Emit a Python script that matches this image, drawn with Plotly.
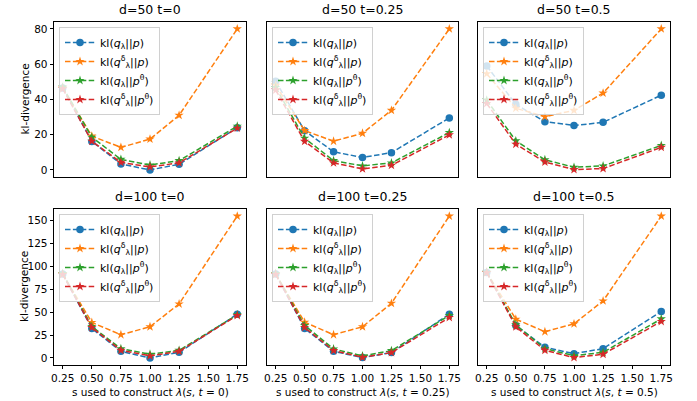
import plotly.graph_objects as go

# s values used to construct lambda(s, t)
s_values = [0.25, 0.50, 0.75, 1.00, 1.25, 1.75]
x_tick_vals = [0.25, 0.50, 0.75, 1.00, 1.25, 1.50, 1.75]
x_tick_text = ["0.25", "0.50", "0.75", "1.00", "1.25", "1.50", "1.75"]
top_y_ticks = [0, 20, 40, 60, 80]
bottom_y_ticks = [0, 25, 50, 75, 100, 125, 150]

# d = 50
d50_t0_q_p = [46.5, 16.2, 3.4, 0.0, 3.2, 24.0]
d50_t0_qd_p = [46.5, 19.2, 12.8, 17.5, 31.0, 80.0]
d50_t0_q_pt = [47.0, 18.6, 6.0, 2.8, 5.3, 24.8]
d50_t0_qd_pt = [46.0, 16.3, 4.3, 1.7, 4.0, 23.7]

d50_t025_q_p = [50.3, 22.2, 10.3, 7.1, 9.8, 29.5]
d50_t025_qd_p = [48.0, 22.3, 16.3, 20.8, 33.8, 80.0]
d50_t025_q_pt = [46.8, 18.0, 5.3, 2.3, 4.0, 21.2]
d50_t025_qd_pt = [45.3, 16.2, 4.0, 0.6, 2.6, 19.9]

d50_t05_q_p = [59.0, 37.2, 27.4, 25.2, 27.0, 42.4]
d50_t05_qd_p = [54.6, 35.0, 30.2, 33.8, 43.6, 80.0]
d50_t05_q_pt = [39.6, 16.5, 5.8, 1.5, 2.3, 13.9]
d50_t05_qd_pt = [37.7, 14.6, 4.5, 0.2, 0.8, 12.8]

# d = 100
d100_t0_q_p = [91.4, 32.2, 7.2, 0.0, 6.1, 47.7]
d100_t0_qd_p = [91.4, 38.7, 25.3, 34.0, 58.9, 154.7]
d100_t0_q_pt = [92.0, 34.3, 10.1, 4.0, 8.3, 47.0]
d100_t0_qd_pt = [91.0, 33.2, 8.3, 2.2, 7.2, 46.3]

d100_t025_q_p = [91.4, 32.2, 7.2, 0.4, 5.8, 47.7]
d100_t025_qd_p = [91.4, 39.0, 25.3, 34.0, 59.6, 154.7]
d100_t025_q_pt = [91.8, 35.4, 9.8, 2.2, 8.0, 46.3]
d100_t025_qd_pt = [91.0, 33.2, 8.0, 0.7, 5.8, 44.1]

d100_t05_q_p = [93.2, 35.4, 11.6, 4.7, 10.1, 50.6]
d100_t05_qd_p = [93.2, 42.3, 28.6, 37.2, 62.2, 154.7]
d100_t05_q_pt = [93.5, 36.1, 10.1, 2.5, 6.1, 42.6]
d100_t05_qd_pt = [93.0, 34.0, 8.3, 0.4, 4.0, 39.8]

panel_titles = ["d=50 t=0", "d=50 t=0.25", "d=50 t=0.5",
                "d=100 t=0", "d=100 t=0.25", "d=100 t=0.5"]
t_labels = ["0", "0.25", "0.5"]

series_names = [
    "kl(<i>q</i><sub>λ</sub>||<i>p</i>)",
    "kl(<i>q</i><sup>δ</sup><sub>λ</sub>||<i>p</i>)",
    "kl(<i>q</i><sub>λ</sub>||<i>p</i><sup>θ</sup>)",
    "kl(<i>q</i><sup>δ</sup><sub>λ</sub>||<i>p</i><sup>θ</sup>)",
]
series_colors = ["#1f77b4", "#ff7f0e", "#2ca02c", "#d62728"]
series_symbols = ["circle", "star", "star", "star"]

panels = [
    [d50_t0_q_p, d50_t0_qd_p, d50_t0_q_pt, d50_t0_qd_pt],
    [d50_t025_q_p, d50_t025_qd_p, d50_t025_q_pt, d50_t025_qd_pt],
    [d50_t05_q_p, d50_t05_qd_p, d50_t05_q_pt, d50_t05_qd_pt],
    [d100_t0_q_p, d100_t0_qd_p, d100_t0_q_pt, d100_t0_qd_pt],
    [d100_t025_q_p, d100_t025_qd_p, d100_t025_q_pt, d100_t025_qd_pt],
    [d100_t05_q_p, d100_t05_qd_p, d100_t05_q_pt, d100_t05_qd_pt],
]

W, H = 697, 401
ML, MR, MT, MB = 54, 27, 22, 36
PW, PH = W - ML - MR, H - MT - MB

col_px = [(54, 246), (267, 458), (478, 670)]
row_px = [(22, 177), (209, 365)]
col_dom = [((a - ML) / PW, (b - ML) / PW) for a, b in col_px]
row_dom = [((H - MB - b) / PH, (H - MB - a) / PH) for a, b in row_px]


def px_x(px):
    return (px - ML) / PW


def px_y(py):
    return (H - MB - py) / PH


FONT = "DejaVu Sans"
fig = go.Figure()
layout = {}
annotations = []

for i, series in enumerate(panels):
    r, c = divmod(i, 3)
    n = i + 1
    xa = "x" if n == 1 else f"x{n}"
    ya = "y" if n == 1 else f"y{n}"
    leg = "legend" if n == 1 else f"legend{n}"
    for k, vals in enumerate(series):
        fig.add_trace(go.Scatter(
            x=s_values, y=vals, mode="lines+markers",
            name=series_names[k], xaxis=xa, yaxis=ya, legend=leg,
            line=dict(color=series_colors[k], width=1.5, dash="5.5px,2.4px"),
            marker=dict(symbol=series_symbols[k], color=series_colors[k],
                        size=7.5 if series_symbols[k] == "circle" else 7,
                        line=dict(width=0)),
        ))

    xd, yd = col_dom[c], row_dom[r]
    bottom = r == 1
    left = c == 0
    layout["xaxis" if n == 1 else f"xaxis{n}"] = dict(
        domain=list(xd), anchor=ya, range=[0.175, 1.825], automargin=False,
        tickvals=x_tick_vals, ticktext=x_tick_text,
        showticklabels=bottom, ticks="outside" if bottom else "",
        ticklen=3.5, tickwidth=0.8, tickcolor="black",
        showline=True, linecolor="black", linewidth=0.8, mirror=True,
        showgrid=False, zeroline=False,
        tickfont=dict(family=FONT, size=10.5, color="black"),
    )
    yticks = bottom_y_ticks if bottom else top_y_ticks
    layout["yaxis" if n == 1 else f"yaxis{n}"] = dict(
        domain=list(yd), anchor=xa, automargin=False,
        range=[-7.7, 162.4] if bottom else [-4.0, 83.9],
        tickvals=yticks, ticktext=[str(v) for v in yticks],
        showticklabels=left, ticks="outside" if left else "",
        ticklen=3.5, tickwidth=0.8, tickcolor="black",
        showline=True, linecolor="black", linewidth=0.8, mirror=True,
        showgrid=False, zeroline=False,
        tickfont=dict(family=FONT, size=10.5, color="black"),
    )
    layout[leg] = dict(
        x=xd[0] + 5 / PW, y=yd[1] - 5 / PH, xanchor="left", yanchor="top",
        bgcolor="rgba(255,255,255,0.8)", bordercolor="#d0d0d0", borderwidth=1,
        font=dict(family=FONT, size=11, color="black"),
        itemwidth=30, tracegroupgap=0,
    )
    annotations.append(dict(
        text=panel_titles[i], x=(xd[0] + xd[1]) / 2, y=yd[1],
        xref="paper", yref="paper", xanchor="center", yanchor="bottom",
        yshift=3, showarrow=False,
        font=dict(family=FONT, size=12.5, color="black"),
    ))
    if bottom:
        annotations.append(dict(
            text=f"s used to construct <i>λ</i>(<i>s</i>, <i>t</i> = {t_labels[c]})",
            x=(xd[0] + xd[1]) / 2, y=px_y(392), xref="paper", yref="paper",
            xanchor="center", yanchor="middle", showarrow=False,
            font=dict(family=FONT, size=10.5, color="black"),
        ))
    if left:
        annotations.append(dict(
            text="kl-divergence", x=px_x(24), y=(yd[0] + yd[1]) / 2,
            xref="paper", yref="paper", xanchor="center", yanchor="middle",
            textangle=-90, showarrow=False,
            font=dict(family=FONT, size=10.5, color="black"),
        ))

fig.update_layout(
    width=W, height=H,
    margin=dict(l=ML, r=MR, t=MT, b=MB, autoexpand=False),
    paper_bgcolor="white", plot_bgcolor="white",
    annotations=annotations,
    **layout,
)

fig.write_html("out.html")
